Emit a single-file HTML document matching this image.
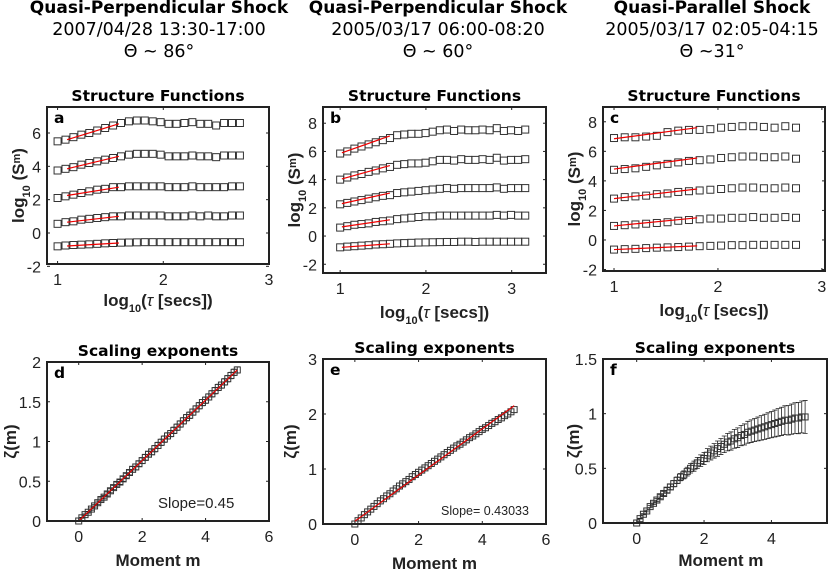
<!DOCTYPE html>
<html><head><meta charset="utf-8"><style>
body{margin:0;background:#fff;}
svg{display:block;font-family:"Liberation Sans",sans-serif;}
.h1{font-family:"DejaVu Sans",sans-serif;font-weight:bold;font-size:17px;}
.h2{font-family:"DejaVu Sans",sans-serif;font-size:17.5px;}
.pt{font-family:"DejaVu Sans",sans-serif;font-weight:bold;font-size:15.5px;}
.tk{font-size:16px;fill:#222;}
.al{font-weight:bold;font-size:17px;fill:#222;}
</style></head><body>
<svg id="fig" width="830" height="577" viewBox="0 0 830 577">
<g>
<text class="h1" x="159" y="13" text-anchor="middle">Quasi-Perpendicular Shock</text>
<text class="h2" x="159" y="35" text-anchor="middle">2007/04/28 13:30-17:00</text>
<text class="h2" x="159" y="57" text-anchor="middle">Θ ~ 86°</text></g>
<g>
<text class="h1" x="438" y="13" text-anchor="middle">Quasi-Perpendicular Shock</text>
<text class="h2" x="438" y="35" text-anchor="middle">2005/03/17 06:00-08:20</text>
<text class="h2" x="438" y="57" text-anchor="middle">Θ ~ 60°</text></g>
<g>
<text class="h1" x="712" y="13" text-anchor="middle">Quasi-Parallel Shock</text>
<text class="h2" x="712" y="35" text-anchor="middle">2005/03/17 02:05-04:15</text>
<text class="h2" x="712" y="57" text-anchor="middle">Θ ~31°</text></g>
</svg>
<script>
// ---------- Data ----------
const sfaX0=1, sfaStep=0.075;
const sfaS5=[5.5,5.6,5.75,5.9,6.0,6.15,6.3,6.45,6.6,6.7,6.75,6.75,6.7,6.65,6.55,6.55,6.6,6.65,6.55,6.55,6.45,6.6,6.6,6.6];
const sfaS4=[3.75,3.85,3.95,4.1,4.2,4.3,4.4,4.5,4.6,4.7,4.75,4.75,4.75,4.7,4.6,4.6,4.6,4.65,4.6,4.6,4.55,4.65,4.65,4.65];
const sfaS3=[2.1,2.2,2.3,2.4,2.5,2.6,2.65,2.75,2.75,2.8,2.8,2.8,2.8,2.8,2.75,2.75,2.75,2.8,2.75,2.75,2.75,2.75,2.8,2.8];
const sfaS2=[0.55,0.65,0.7,0.8,0.85,0.9,0.95,1.0,1.0,1.05,1.05,1.05,1.05,1.05,1.0,1.0,1.0,1.05,1.0,1.05,1.0,1.0,1.05,1.05];
const sfaS1=[-0.8,-0.75,-0.72,-0.7,-0.68,-0.65,-0.62,-0.6,-0.58,-0.57,-0.56,-0.55,-0.55,-0.55,-0.55,-0.55,-0.55,-0.55,-0.55,-0.55,-0.55,-0.55,-0.55,-0.55];
const sfaFitX=[1.09,1.58];
const sfaFitStart=[5.6,3.85,2.25,0.65,-0.78];
const sfaFitEnd=[6.55,4.6,2.75,1.0,-0.6];

const sfbX0=1, sfbStep=0.083;
const sfbS5=[5.85,6.0,6.2,6.35,6.5,6.65,6.8,6.95,7.15,7.2,7.25,7.25,7.3,7.4,7.5,7.55,7.45,7.55,7.5,7.5,7.55,7.5,7.65,7.45,7.5,7.45,7.55];
const sfbS4=[4.0,4.15,4.3,4.4,4.55,4.65,4.8,4.9,5.05,5.1,5.15,5.15,5.2,5.3,5.4,5.4,5.35,5.45,5.4,5.4,5.45,5.4,5.55,5.35,5.4,5.4,5.45];
const sfbS3=[2.25,2.35,2.45,2.55,2.65,2.75,2.85,2.9,3.05,3.1,3.15,3.2,3.25,3.3,3.35,3.4,3.35,3.4,3.4,3.4,3.4,3.4,3.45,3.35,3.4,3.4,3.4];
const sfbS2=[0.6,0.7,0.8,0.85,0.9,1.0,1.05,1.1,1.2,1.25,1.3,1.35,1.4,1.4,1.45,1.45,1.45,1.45,1.45,1.45,1.45,1.45,1.5,1.45,1.5,1.45,1.45];
const sfbS1=[-0.8,-0.75,-0.72,-0.68,-0.65,-0.6,-0.58,-0.55,-0.52,-0.5,-0.48,-0.46,-0.45,-0.44,-0.43,-0.42,-0.42,-0.4,-0.4,-0.42,-0.4,-0.4,-0.4,-0.4,-0.4,-0.4,-0.4];
const sfbFitX=[1.02,1.58];
const sfbFitStart=[5.9,4.05,2.3,0.65,-0.8];
const sfbFitEnd=[7.1,5.0,3.05,1.15,-0.55];

const sfcX0=1, sfcStep=0.103;
const sfcS5=[6.9,6.95,6.95,7.0,7.05,7.3,7.4,7.45,7.45,7.5,7.6,7.65,7.7,7.7,7.65,7.6,7.7,7.6];
const sfcS4=[4.75,4.8,4.85,4.95,5.05,5.15,5.25,5.35,5.4,5.45,5.55,5.6,5.65,5.65,5.6,5.6,5.65,5.5];
const sfcS3=[2.8,2.9,2.95,3.0,3.1,3.15,3.25,3.3,3.35,3.4,3.45,3.5,3.55,3.55,3.5,3.5,3.55,3.5];
const sfcS2=[0.95,1.0,1.05,1.1,1.15,1.2,1.3,1.35,1.4,1.45,1.45,1.5,1.5,1.55,1.5,1.5,1.55,1.5];
const sfcS1=[-0.65,-0.62,-0.6,-0.55,-0.52,-0.5,-0.48,-0.45,-0.42,-0.4,-0.38,-0.35,-0.35,-0.33,-0.33,-0.33,-0.33,-0.33];
const sfcFitX=[1.0,1.8];
const sfcFitStart=[6.85,4.8,2.8,0.95,-0.65];
const sfcFitEnd=[7.6,5.55,3.45,1.5,-0.4];

const mStep=0.1;
const zetaD=[0,.04,.08,.11,.15,.19,.23,.27,.30,.34,.38,.42,.46,.49,.53,.57,.61,.65,.68,.72,.76,.80,.84,.87,.91,.95,.99,1.03,1.07,1.10,1.14,1.18,1.22,1.26,1.30,1.33,1.37,1.41,1.45,1.49,1.52,1.56,1.60,1.64,1.68,1.71,1.75,1.79,1.83,1.87,1.90];
const errD=[0,.005,.01,.01,.015,.015,.02,.02,.02,.025,.025,.025,.03,.03,.03,.03,.03,.035,.035,.035,.035,.035,.035,.035,.04,.04,.04,.04,.04,.04,.04,.04,.04,.04,.04,.04,.04,.04,.04,.04,.04,.04,.04,.04,.04,.04,.04,.04,.04,.04,.04];
const fitD=[0,1.9];
const zetaE=[0,.06,.11,.17,.22,.27,.32,.37,.42,.46,.51,.55,.60,.64,.69,.73,.77,.81,.86,.90,.94,.98,1.02,1.06,1.10,1.14,1.18,1.22,1.26,1.30,1.34,1.38,1.42,1.45,1.49,1.53,1.57,1.60,1.64,1.68,1.72,1.75,1.79,1.83,1.86,1.90,1.93,1.97,2.00,2.04,2.08];
const fitE=[0.05,2.15];
const zetaF=[0,.04,.08,.11,.15,.18,.21,.24,.27,.30,.33,.36,.39,.42,.44,.47,.50,.52,.55,.57,.59,.62,.64,.66,.68,.70,.72,.74,.75,.77,.78,.80,.81,.83,.84,.85,.86,.87,.88,.89,.90,.91,.92,.93,.94,.94,.95,.96,.96,.97,.97];
const errF=[0,.003,.005,.008,.01,.012,.015,.018,.02,.023,.025,.028,.03,.033,.036,.04,.043,.046,.05,.053,.056,.06,.063,.066,.07,.073,.076,.08,.083,.086,.09,.093,.096,.1,.103,.106,.109,.112,.115,.118,.12,.123,.126,.129,.132,.135,.138,.14,.143,.146,.15];

const sfTicksX=[1,2,3];
const sfTicksYa=[-2,0,2,4,6];
const sfTicksYb=[-2,0,2,4,6,8];
const seTicksX=[0,2,4,6];
const seTicksXf=[0,2,4];
const seTicksYd=[0,0.5,1,1.5,2];
const seTicksYe=[0,1,2,3];
const seTicksYf=[0,0.5,1,1.5];

// ---------- Drawing ----------
const NS="http://www.w3.org/2000/svg";
const svg=document.getElementById('fig');
function el(tag,attrs,parent,txt){const e=document.createElementNS(NS,tag);for(const k in attrs)e.setAttribute(k,attrs[k]);if(txt!==undefined)e.textContent=txt;(parent||svg).appendChild(e);return e;}

function axes(p){
  const g=el('g',{});
  
  
  const X=v=>p.L+(v-p.xmin)/(p.xmax-p.xmin)*(p.R-p.L);
  const Y=v=>p.B-(v-p.ymin)/(p.ymax-p.ymin)*(p.B-p.T);
  p.X=X;p.Y=Y;p.g=g;
  const t=el('text',{x:(p.L+p.R)/2,y:p.T-6,'text-anchor':'middle',class:'pt'},g,p.title);
  
  
  p.xt.forEach(v=>{const x=X(v);
    el('line',{x1:x,x2:x,y1:p.B,y2:p.B-3,stroke:'#222','stroke-width':1},g);
    el('line',{x1:x,x2:x,y1:p.T,y2:p.T+3,stroke:'#222','stroke-width':1},g);
    const tx=el('text',{x:x,y:p.B+21,'text-anchor':'middle',class:'tk'},g,String(v));
    
    
  });
  p.yt.forEach(v=>{const y=Y(v);
    el('line',{x1:p.L,x2:p.L+3,y1:y,y2:y,stroke:'#222','stroke-width':1},g);
    el('line',{x1:p.R,x2:p.R-3,y1:y,y2:y,stroke:'#222','stroke-width':1},g);
    const ty=el('text',{x:p.L-6,y:y+6,'text-anchor':'end',class:'tk'},g,String(v));
    
    
  });
  const lt=el('text',{x:p.L+7,y:p.T+16,class:'pt','font-size':'15'},g,p.letter);
  
  
  return p;
}
function frame(p){
  const r=el('rect',{x:p.L,y:p.T,width:p.R-p.L,height:p.B-p.T,fill:'none',stroke:'#222','stroke-width':2},p.g);
  
  
}
function sq(p,x,y,s){return el('rect',{x:p.X(x)-s/2,y:p.Y(y)-s/2,width:s,height:s,fill:'none',stroke:'#333','stroke-width':1},p.g);}

function sfPanel(p,x0,step,series,fx,fs,fe){
  axes(p);
  series.forEach((arr,si)=>{
    arr.forEach((v,i)=>{const r=sq(p,x0+i*step,v,7);
      
      });
  });
  fs.forEach((v,i)=>{const l=el('line',{x1:p.X(fx[0]),x2:p.X(fx[1]),y1:p.Y(v),y2:p.Y(fe[i]),stroke:'#e00','stroke-width':1.2},p.g);
    
    });
  frame(p);
  const yl=el('text',{transform:`translate(${p.ylx},${(p.T+p.B)/2}) rotate(-90)`,'text-anchor':'middle',class:'al'},p.g);
  
  
  el('tspan',{},yl,'log');el('tspan',{'font-size':'11',dy:'6'},yl,'10');el('tspan',{dy:'-6'},yl,' (S');el('tspan',{'font-size':'11',dy:'-4'},yl,'m');el('tspan',{dy:'4'},yl,')');
  const xl=el('text',{x:(p.L+p.R)/2,y:p.xly,'text-anchor':'middle',class:'al'},p.g);
  
  
  el('tspan',{},xl,'log');el('tspan',{'font-size':'11',dy:'6'},xl,'10');el('tspan',{dy:'-6'},xl,'(');el('tspan',{'font-style':'italic','font-weight':'normal'},xl,'τ');el('tspan',{},xl,' [secs])');
}
function sePanel(p,vals,errs,fit,slope){
  axes(p);
  if(fit){const l=el('line',{x1:p.X(0),x2:p.X(5),y1:p.Y(fit[0]),y2:p.Y(fit[1]),stroke:'#e00','stroke-width':1.2},p.g);
    
    }
  vals.forEach((v,i)=>{const m=i*mStep;
    const e=errs?errs[i]:0;
    if(e>0){const x=p.X(m),y1=p.Y(v-e),y2=p.Y(v+e);
      const eb=el('path',{d:`M${x},${y1}V${y2}M${x-2.5},${y1}H${x+2.5}M${x-2.5},${y2}H${x+2.5}`,stroke:'#222','stroke-width':0.8,fill:'none'},p.g);
      
      }
    const r=sq(p,m,v,6);
    
    
  });
  if(fit){const l=el('line',{x1:p.X(0),x2:p.X(5),y1:p.Y(fit[0]),y2:p.Y(fit[1]),stroke:'#e00','stroke-width':1},p.g);
    
    }
  frame(p);
  const yl=el('text',{transform:`translate(${p.ylx},${(p.T+p.B)/2}) rotate(-90)`,'text-anchor':'middle',class:'al'},p.g,'ζ(m)');
  
  
  const xl=el('text',{x:p.X(2.5),y:p.xly,'text-anchor':'middle',class:'al'},p.g,'Moment m');
  
  
  if(slope){const s=el('text',{x:slope.x,y:slope.y,'font-size':slope.fs,fill:'#222'},p.g,slope.t);
    
    }
}

sfPanel({name:'panel-a',title:'Structure Functions',letter:'a',L:47,R:269,T:107,B:264,xmin:0.9,xmax:3,ymin:-1.86,ymax:7.56,xt:sfTicksX,yt:sfTicksYa,ylx:24,xly:306},
  sfaX0,sfaStep,[sfaS5,sfaS4,sfaS3,sfaS2,sfaS1],sfaFitX,sfaFitStart,sfaFitEnd);
sfPanel({name:'panel-b',title:'Structure Functions',letter:'b',L:323,R:546,T:107,B:273,xmin:0.8,xmax:3.4,ymin:-2.62,ymax:9.15,xt:sfTicksX,yt:sfTicksYb,ylx:300,xly:318},
  sfbX0,sfbStep,[sfbS5,sfbS4,sfbS3,sfbS2,sfbS1],sfbFitX,sfbFitStart,sfbFitEnd);
sfPanel({name:'panel-c',title:'Structure Functions',letter:'c',L:603,R:825,T:107,B:271,xmin:0.894,xmax:3.03,ymin:-2.1,ymax:9.0,xt:sfTicksX,yt:sfTicksYb,ylx:580,xly:316},
  sfcX0,sfcStep,[sfcS5,sfcS4,sfcS3,sfcS2,sfcS1],sfcFitX,sfcFitStart,sfcFitEnd);

sePanel({name:'panel-d',title:'Scaling exponents',letter:'d',L:47,R:269,T:362,B:521,xmin:-1,xmax:6,ymin:0,ymax:2,xt:seTicksX,yt:seTicksYd,ylx:16,xly:566},
  zetaD,errD,fitD,{x:158,y:508,fs:15,t:'Slope=0.45'});
sePanel({name:'panel-e',title:'Scaling exponents',letter:'e',L:323,R:546,T:359,B:524,xmin:-1,xmax:6,ymin:0,ymax:3,xt:seTicksX,yt:seTicksYe,ylx:296,xly:569},
  zetaE,null,fitE,{x:441,y:515,fs:12.5,t:'Slope= 0.43033'});
sePanel({name:'panel-f',title:'Scaling exponents',letter:'f',L:603,R:827,T:359,B:523,xmin:-1,xmax:5.65,ymin:0,ymax:1.5,xt:seTicksXf,yt:seTicksYf,ylx:579,xly:566},
  zetaF,errF,null,null);
</script>
</body></html>
